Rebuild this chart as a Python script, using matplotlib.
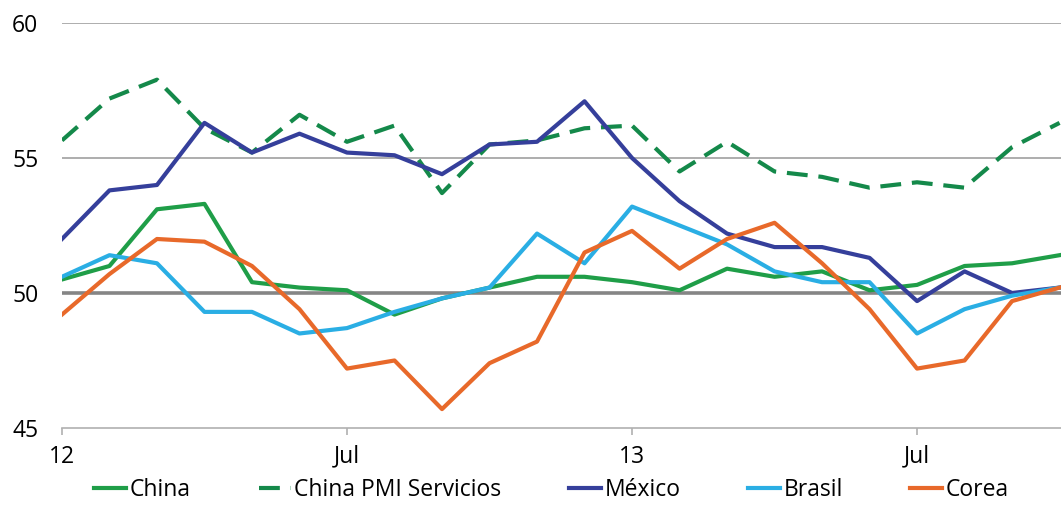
import matplotlib
matplotlib.use("Agg")
import matplotlib.pyplot as plt
import numpy as np

# Monthly PMI readings, Jan 2012 - Oct 2013
months = np.arange(22)
tick_pos = [0, 6, 12, 18]
tick_labels = ["12", "Jul", "13", "Jul"]

china = [50.5, 51.0, 53.1, 53.3, 50.4, 50.2, 50.1, 49.2, 49.8, 50.2, 50.6,
         50.6, 50.4, 50.1, 50.9, 50.6, 50.8, 50.1, 50.3, 51.0, 51.1, 51.4]
china_serv = [55.65, 57.2, 57.9, 56.1, 55.2, 56.6, 55.6, 56.2, 53.7, 55.5, 55.65,
              56.1, 56.2, 54.5, 55.6, 54.5, 54.3, 53.9, 54.1, 53.9, 55.4, 56.3]
mexico = [52.0, 53.8, 54.0, 56.3, 55.2, 55.9, 55.2, 55.1, 54.4, 55.5, 55.6,
          57.1, 55.0, 53.4, 52.2, 51.7, 51.7, 51.3, 49.7, 50.8, 50.0, 50.2]
brasil = [50.6, 51.4, 51.1, 49.3, 49.3, 48.5, 48.7, 49.3, 49.8, 50.2, 52.2,
          51.1, 53.2, 52.5, 51.8, 50.8, 50.4, 50.4, 48.5, 49.4, 49.9, 50.2]
corea = [49.2, 50.7, 52.0, 51.9, 51.0, 49.4, 47.2, 47.5, 45.7, 47.4, 48.2,
         51.5, 52.3, 50.9, 52.0, 52.6, 51.1, 49.4, 47.2, 47.5, 49.7, 50.2]

plt.rcParams["font.family"] = ["Open Sans", "DejaVu Sans"]

fig = plt.figure(figsize=(10.61, 5.05), dpi=100)
ax = fig.add_axes([0.0584, 0.1525, 0.9416, 0.802])

# gridlines at 55 / 60, heavier line at 50
for y in [55, 60]:
    ax.axhline(y, color="#a0a0a0", lw=1.2, zorder=1)
ax.axhline(50, color="#858585", lw=2.6, zorder=1)

lw = 3
ax.plot(months, china, color="#1f9e48", lw=lw, label="China", zorder=3)
ax.plot(months, china_serv, color="#14894a", lw=lw, dashes=(5, 2.6),
        label="China PMI Servicios", zorder=3)
ax.plot(months, mexico, color="#353f9b", lw=lw, label="México", zorder=3)
ax.plot(months, brasil, color="#2aaee4", lw=lw, label="Brasil", zorder=3)
ax.plot(months, corea, color="#e8692a", lw=lw, label="Corea", zorder=3)

ax.set_xlim(0, 21.03)
ax.set_ylim(45, 60)
ax.set_yticks([45, 50, 55, 60])
ax.set_xticks(tick_pos)
ax.set_xticklabels(tick_labels)

for side in ["top", "right", "left"]:
    ax.spines[side].set_visible(False)
ax.spines["bottom"].set_color("#b0b0b0")
ax.spines["bottom"].set_linewidth(1.2)
ax.tick_params(axis="y", length=0, pad=17, labelsize=16.5)
ax.tick_params(axis="x", length=5, width=1.2, color="#b0b0b0", pad=7, labelsize=16.5)

fig.legend(loc="center", bbox_to_anchor=(0.52, 0.03), ncol=5, frameon=False,
           fontsize=16.5, handlelength=1.4, handletextpad=0.15, columnspacing=2.95,
           borderaxespad=0, borderpad=0)

fig.savefig("out.png", dpi=100)
